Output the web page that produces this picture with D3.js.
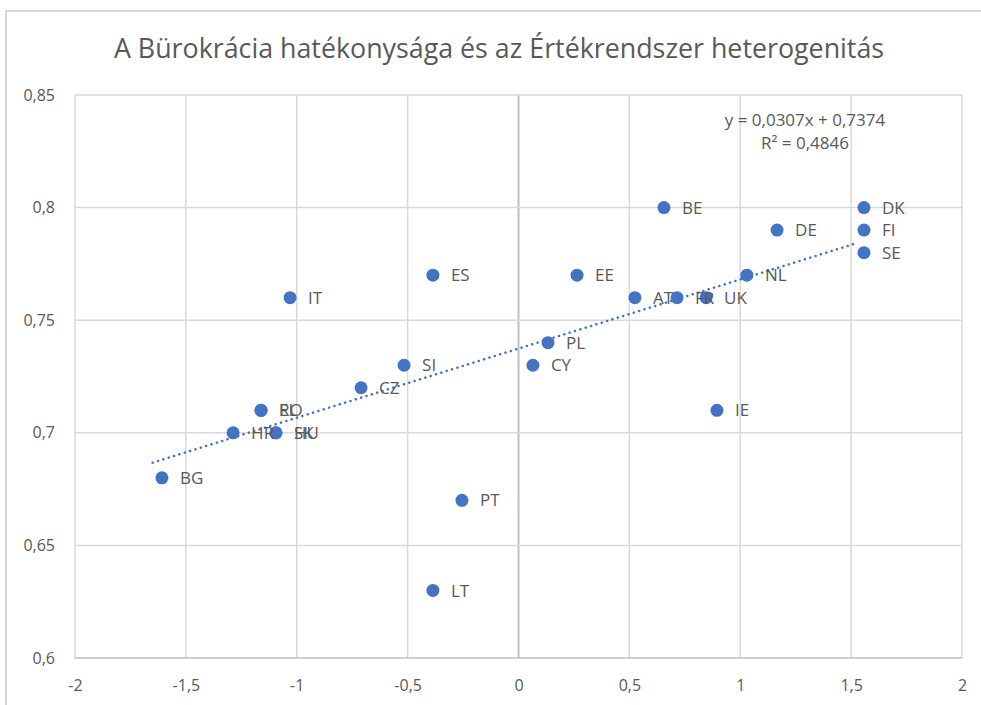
<!DOCTYPE html>
<html>
<head>
<meta charset="utf-8">
<script src="https://cdn.jsdelivr.net/npm/d3@7"></script>
<style>
body { margin: 0; background: #fff; }
text { font-family: "Open Sans", "Noto Sans", sans-serif; fill: #595959; }
</style>
</head>
<body>
<div id="chart"></div>
<script>
var title = "A Bürokrácia hatékonysága és az Értékrendszer heterogenitás";

var countries = ["BG", "HR", "RO", "EL", "SK", "HU", "CZ", "SI", "IT", "ES", "LT", "PT",
                 "CY", "PL", "EE", "AT", "BE", "FR", "UK", "IE", "NL", "DE", "DK", "FI", "SE"];
var xValues = [-1.608, -1.287, -1.161, -1.161, -1.094, -1.094, -0.71, -0.516, -1.03, -0.386, -0.386, -0.255,
               0.065, 0.133, 0.264, 0.525, 0.656, 0.715, 0.846, 0.895, 1.03, 1.166, 1.558, 1.558, 1.558];
var yValues = [0.68, 0.70, 0.71, 0.71, 0.70, 0.70, 0.72, 0.73, 0.76, 0.77, 0.63, 0.67,
               0.73, 0.74, 0.77, 0.76, 0.80, 0.76, 0.76, 0.71, 0.77, 0.79, 0.80, 0.79, 0.78];

var xTicks = [-2, -1.5, -1, -0.5, 0, 0.5, 1, 1.5, 2];
var yTicks = [0.6, 0.65, 0.7, 0.75, 0.8, 0.85];

// trendline from the fitted equation shown in the chart
var slope = 0.0307, intercept = 0.7374;
var trendX = [-1.65, 1.52];
var eqText = "y = 0,0307x + 0,7374";
var r2Text = "R² = 0,4846";

var W = 981, H = 705;
var margin = {top: 95, right: 19, bottom: 47, left: 75};

var svg = d3.select("#chart").append("svg")
    .attr("width", W)
    .attr("height", H);

// chart frame
svg.append("rect")
    .attr("x", 6).attr("y", 11)
    .attr("width", W + 10).attr("height", H)
    .attr("fill", "none")
    .attr("stroke", "#d9d9d9")
    .attr("stroke-width", 2);

var x = d3.scaleLinear().domain([-2, 2]).range([margin.left, W - margin.right]);
var y = d3.scaleLinear().domain([0.6, 0.85]).range([H - margin.bottom, margin.top]);

var fmt = function(d){ return String(d).replace(".", ","); };

// gridlines
svg.append("g")
    .selectAll("line")
    .data(xTicks)
    .enter().append("line")
    .attr("x1", function(d){ return x(d); })
    .attr("x2", function(d){ return x(d); })
    .attr("y1", y(0.6)).attr("y2", y(0.85))
    .attr("stroke", function(d){ return d == 0 ? "#bfbfbf" : "#d9d9d9"; })
    .attr("stroke-width", function(d){ return d == 0 ? 2 : 1.5; });

svg.append("g")
    .selectAll("line")
    .data(yTicks)
    .enter().append("line")
    .attr("x1", x(-2)).attr("x2", x(2))
    .attr("y1", function(d){ return y(d); })
    .attr("y2", function(d){ return y(d); })
    .attr("stroke", function(d){ return d == 0.6 ? "#bfbfbf" : "#d9d9d9"; })
    .attr("stroke-width", 1.5);

// axes (labels only)
var xAxis = d3.axisBottom(x).tickValues(xTicks).tickFormat(fmt).tickSize(0).tickPadding(22);
var gx = svg.append("g")
    .attr("transform", "translate(0," + y(0.6) + ")")
    .call(xAxis);
gx.select(".domain").remove();
gx.selectAll("text").style("font-size", "16px").attr("fill", "#595959");

var yAxis = d3.axisLeft(y).tickValues(yTicks).tickFormat(fmt).tickSize(0).tickPadding(20);
var gy = svg.append("g")
    .attr("transform", "translate(" + x(-2) + ",0)")
    .call(yAxis);
gy.select(".domain").remove();
gy.selectAll("text").style("font-size", "16px").attr("fill", "#595959");

// trendline
var line = d3.line()
    .x(function(d){ return x(d); })
    .y(function(d){ return y(slope * d + intercept); });

svg.append("path")
    .datum(trendX)
    .attr("d", line)
    .attr("fill", "none")
    .attr("stroke", "#4472c4")
    .attr("stroke-width", 2.5)
    .attr("stroke-linecap", "round")
    .attr("stroke-dasharray", "0.1 5.5");

// points
var data = countries.map(function(c, i){ return {name: c, x: xValues[i], y: yValues[i]}; });

svg.append("g")
    .selectAll("circle")
    .data(data)
    .enter().append("circle")
    .attr("cx", function(d){ return x(d.x); })
    .attr("cy", function(d){ return y(d.y); })
    .attr("r", 6.5)
    .attr("fill", "#4472c4");

svg.append("g")
    .selectAll("text")
    .data(data)
    .enter().append("text")
    .attr("x", function(d){ return x(d.x) + 18; })
    .attr("y", function(d){ return y(d.y); })
    .attr("dy", "0.36em")
    .style("font-size", "17px")
    .text(function(d){ return d.name; });

// equation
svg.append("text")
    .attr("x", 805).attr("y", 126)
    .attr("text-anchor", "middle")
    .style("font-size", "17px")
    .text(eqText);
svg.append("text")
    .attr("x", 805).attr("y", 149)
    .attr("text-anchor", "middle")
    .style("font-size", "17px")
    .text(r2Text);

// title
svg.append("text")
    .attr("x", 499).attr("y", 58)
    .attr("text-anchor", "middle")
    .style("font-size", "26.8px")
    .text(title);
</script>
</body>
</html>
